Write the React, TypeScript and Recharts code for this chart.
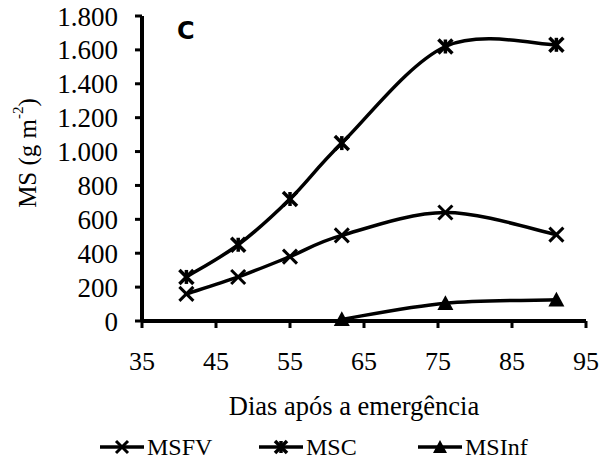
import { Legend, Line, LineChart, XAxis, YAxis } from "recharts";

const days = [41, 48, 55, 62, 76, 91];
const msfv = [160, 260, 380, 505, 640, 510];
const msc = [260, 450, 720, 1050, 1620, 1630];
const msinfDays = [62, 76, 91];
const msinf = [10, 105, 125];
const xTicks = [35, 45, 55, 65, 75, 85, 95];
const yTicks = [0, 200, 400, 600, 800, 1000, 1200, 1400, 1600, 1800];

const data = days.map((d, i) => {
  const j = msinfDays.indexOf(d);
  return { day: d, msfv: msfv[i], msc: msc[i], msinf: j >= 0 ? msinf[j] : null };
});

const SERIF = "'Liberation Serif', 'Times New Roman', serif";
const fmt = (v: number) => String(v).replace(/\B(?=(\d{3})+(?!\d))/g, ".");

// spreadsheet-style smoothing (Catmull-Rom through the points)
function smoothCurve(context: any) {
  let pts: number[][] = [];
  return {
    areaStart() {},
    areaEnd() {},
    lineStart() {
      pts = [];
    },
    point(x: number, y: number) {
      pts.push([+x, +y]);
    },
    lineEnd() {
      if (!pts.length) return;
      context.moveTo(pts[0][0], pts[0][1]);
      for (let i = 0; i < pts.length - 1; i++) {
        const p0 = pts[i - 1] ?? pts[i];
        const p1 = pts[i];
        const p2 = pts[i + 1];
        const p3 = pts[i + 2] ?? p2;
        context.bezierCurveTo(
          p1[0] + (p2[0] - p0[0]) / 6,
          p1[1] + (p2[1] - p0[1]) / 6,
          p2[0] - (p3[0] - p1[0]) / 6,
          p2[1] - (p3[1] - p1[1]) / 6,
          p2[0],
          p2[1]
        );
      }
    },
  };
}

function Cross({ cx, cy, s = 7, w = 3 }: { cx: number; cy: number; s?: number; w?: number }) {
  return (
    <g stroke="#000" strokeWidth={w}>
      <line x1={cx - s} y1={cy - s} x2={cx + s} y2={cy + s} />
      <line x1={cx - s} y1={cy + s} x2={cx + s} y2={cy - s} />
    </g>
  );
}

function Star({ cx, cy, s = 7 }: { cx: number; cy: number; s?: number }) {
  return (
    <g stroke="#000" strokeWidth={3.5}>
      <line x1={cx - s} y1={cy - s} x2={cx + s} y2={cy + s} />
      <line x1={cx - s} y1={cy + s} x2={cx + s} y2={cy - s} />
      <line x1={cx} y1={cy - s} x2={cx} y2={cy + s} />
    </g>
  );
}

function Tri({ cx, cy, s = 8 }: { cx: number; cy: number; s?: number }) {
  return <path d={`M${cx},${cy - s}L${cx + s},${cy + s * 0.85}L${cx - s},${cy + s * 0.85}Z`} fill="#000" />;
}

const dotOf = (kind: string) => (p: any) => {
  if (p.cy == null || p.value == null) return <g key={p.key} />;
  if (kind === "x") return <Cross key={p.key} cx={p.cx} cy={p.cy} />;
  if (kind === "star") return <Star key={p.key} cx={p.cx} cy={p.cy} />;
  return <Tri key={p.key} cx={p.cx} cy={p.cy} />;
};

const legendItems = [
  { name: "MSFV", kind: "x", left: 100 },
  { name: "MSC", kind: "star", left: 259 },
  { name: "MSInf", kind: "tri", left: 418 },
];

function LegendBox() {
  return (
    <div style={{ position: "relative", height: 56, fontFamily: SERIF, fontSize: 24 }}>
      {legendItems.map((it) => (
        <div key={it.name} style={{ position: "absolute", left: it.left, top: 14, display: "flex", alignItems: "center" }}>
          <svg width={44} height={28}>
            <line x1={0} y1={14} x2={44} y2={14} stroke="#000" strokeWidth={3.5} />
            {it.kind === "x" && <Cross cx={22} cy={14} s={6} />}
            {it.kind === "star" && <Star cx={22} cy={14} s={6} />}
            {it.kind === "tri" && <Tri cx={22} cy={14} s={7} />}
          </svg>
          <span style={{ marginLeft: 3, lineHeight: "28px" }}>{it.name}</span>
        </div>
      ))}
    </div>
  );
}

const YLabel = ({ viewBox }: any) => {
  const x = viewBox.x + 27;
  const y = viewBox.y + 137;
  return (
    <text x={x} y={y} transform={`rotate(-90, ${x}, ${y})`} textAnchor="middle" dominantBaseline="central" fontFamily={SERIF} fontSize={25} fill="#000">
      MS (g m
      <tspan dy={-9} fontSize={15}>-2</tspan>
      <tspan dy={9}>)</tspan>
    </text>
  );
};

const XLabel = ({ viewBox }: any) => (
  <text x={viewBox.x + viewBox.width / 2 - 10} y={415} textAnchor="middle" fontFamily={SERIF} fontSize={26.5} fill="#000">
    Dias após a emergência
  </text>
);

export default function App() {
  return (
    <div style={{ position: "absolute", left: 0, top: 0, width: 602, height: 475, background: "#fff" }}>
      <LineChart width={602} height={475} data={data} margin={{ top: 16, right: 16, left: 0, bottom: 0 }}>
        <XAxis
          dataKey="day"
          type="number"
          domain={[35, 95]}
          ticks={xTicks}
          interval={0}
          height={98}
          axisLine={{ stroke: "#000", strokeWidth: 4 }}
          tickLine={{ stroke: "#000", strokeWidth: 3 }}
          tickSize={7}
          tickMargin={24}
          tick={{ fill: "#000", fontFamily: SERIF, fontSize: 26 }}
          label={<XLabel />}
        />
        <YAxis
          type="number"
          domain={[0, 1800]}
          ticks={yTicks}
          interval={0}
          width={142}
          axisLine={{ stroke: "#000", strokeWidth: 4 }}
          tickLine={{ stroke: "#000", strokeWidth: 3 }}
          tickSize={7}
          tickMargin={17}
          tickFormatter={fmt}
          tick={{ fill: "#000", fontFamily: SERIF, fontSize: 27 }}
          label={<YLabel />}
        />
        <Legend verticalAlign="bottom" content={() => <LegendBox />} />
        <Line dataKey="msfv" type={smoothCurve as any} stroke="#000" strokeWidth={3.5} dot={dotOf("x")} isAnimationActive={false} />
        <Line dataKey="msc" type={smoothCurve as any} stroke="#000" strokeWidth={3.5} dot={dotOf("star")} isAnimationActive={false} />
        <Line dataKey="msinf" type={smoothCurve as any} stroke="#000" strokeWidth={3.5} dot={dotOf("tri")} isAnimationActive={false} />
      </LineChart>
      <div style={{ position: "absolute", left: 177, top: 17, fontFamily: "'DejaVu Sans', sans-serif", fontWeight: "bold", fontSize: 24 }}>C</div>
    </div>
  );
}
